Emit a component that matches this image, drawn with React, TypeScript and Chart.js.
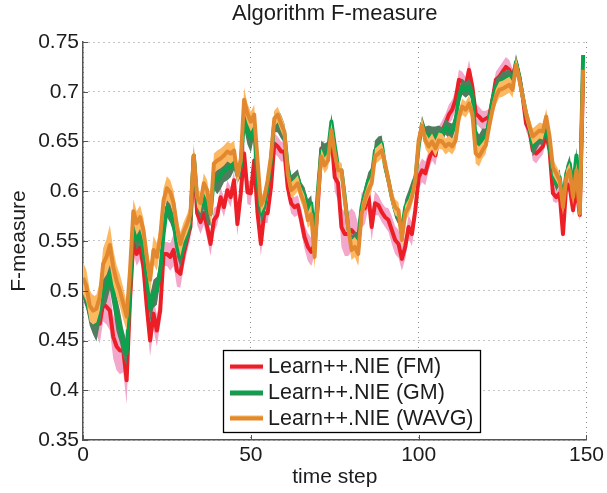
import React, { useEffect, useRef } from "react";
import { Chart, registerables } from "chart.js";

Chart.register(...registerables);

const TITLE = "Algorithm F-measure";
const X_LABEL = "time step";
const Y_LABEL = "F-measure";
const X_TICKS = [0, 50, 100, 150];
const X_TICK_LABELS = ["0", "50", "100", "150"];
const Y_TICKS = [0.35, 0.4, 0.45, 0.5, 0.55, 0.6, 0.65, 0.7, 0.75];
const Y_TICK_LABELS = ["0.35", "0.4", "0.45", "0.5", "0.55", "0.6", "0.65", "0.7", "0.75"];
const SERIES_NAMES = ["Learn++.NIE (FM)", "Learn++.NIE (GM)", "Learn++.NIE (WAVG)"];

const FM = [
  0.500, 0.494, 0.484, 0.480, 0.474, 0.467, 0.487, 0.484, 0.480, 0.454,
  0.444, 0.440, 0.440, 0.410, 0.490, 0.550, 0.537, 0.544, 0.524, 0.484,
  0.450, 0.477, 0.460, 0.480, 0.537, 0.537, 0.534, 0.541, 0.520, 0.517,
  0.537, 0.551, 0.564, 0.635, 0.578, 0.569, 0.578, 0.564, 0.547, 0.571,
  0.576, 0.594, 0.584, 0.601, 0.594, 0.611, 0.567, 0.598, 0.638, 0.599,
  0.598, 0.631, 0.578, 0.547, 0.578, 0.578, 0.604, 0.648, 0.645, 0.640,
  0.640, 0.604, 0.588, 0.584, 0.586, 0.571, 0.554, 0.544, 0.539, 0.547,
  0.588, 0.643, 0.635, 0.636, 0.656, 0.614, 0.608, 0.564, 0.557, 0.557,
  0.561, 0.557, 0.547, 0.581, 0.583, 0.598, 0.564, 0.588, 0.586, 0.579,
  0.574, 0.571, 0.561, 0.551, 0.547, 0.532, 0.544, 0.564, 0.557, 0.581,
  0.614, 0.621, 0.618, 0.631, 0.641, 0.636, 0.655, 0.661, 0.668, 0.677,
  0.682, 0.692, 0.712, 0.710, 0.705, 0.722, 0.705, 0.678, 0.675, 0.671,
  0.673, 0.675, 0.692, 0.712, 0.715, 0.720, 0.725, 0.722, 0.715, 0.728,
  0.715, 0.695, 0.668, 0.661, 0.641, 0.638, 0.641, 0.645, 0.658, 0.641,
  0.598, 0.594, 0.598, 0.557, 0.608, 0.604, 0.581, 0.604, 0.576, 0.718,
];

const GM = [
  0.500, 0.492, 0.477, 0.472, 0.467, 0.484, 0.500, 0.504, 0.517, 0.500,
  0.477, 0.464, 0.447, 0.437, 0.500, 0.565, 0.551, 0.557, 0.541, 0.514,
  0.482, 0.497, 0.500, 0.520, 0.557, 0.584, 0.578, 0.568, 0.544, 0.534,
  0.547, 0.557, 0.571, 0.636, 0.591, 0.584, 0.596, 0.581, 0.577, 0.614,
  0.611, 0.616, 0.621, 0.623, 0.624, 0.631, 0.618, 0.624, 0.675, 0.661,
  0.653, 0.665, 0.611, 0.577, 0.584, 0.604, 0.631, 0.670, 0.671, 0.665,
  0.658, 0.624, 0.608, 0.611, 0.614, 0.601, 0.596, 0.584, 0.588, 0.554,
  0.601, 0.641, 0.636, 0.640, 0.670, 0.646, 0.624, 0.621, 0.594, 0.564,
  0.547, 0.551, 0.551, 0.584, 0.598, 0.611, 0.614, 0.641, 0.645, 0.648,
  0.625, 0.611, 0.594, 0.581, 0.574, 0.561, 0.584, 0.591, 0.601, 0.611,
  0.645, 0.668, 0.655, 0.656, 0.655, 0.655, 0.658, 0.656, 0.665, 0.661,
  0.660, 0.671, 0.695, 0.705, 0.702, 0.705, 0.698, 0.651, 0.645, 0.653,
  0.655, 0.671, 0.692, 0.705, 0.708, 0.712, 0.713, 0.715, 0.708, 0.730,
  0.715, 0.695, 0.678, 0.665, 0.645, 0.651, 0.655, 0.655, 0.665, 0.645,
  0.618, 0.608, 0.614, 0.591, 0.618, 0.628, 0.604, 0.636, 0.585, 0.737,
];

const WAVG = [
  0.513, 0.505, 0.485, 0.480, 0.482, 0.494, 0.527, 0.534, 0.546, 0.524,
  0.510, 0.500, 0.487, 0.474, 0.520, 0.580, 0.568, 0.574, 0.561, 0.534,
  0.511, 0.541, 0.534, 0.554, 0.591, 0.603, 0.599, 0.588, 0.564, 0.547,
  0.559, 0.567, 0.577, 0.636, 0.594, 0.588, 0.608, 0.601, 0.577, 0.628,
  0.631, 0.633, 0.636, 0.640, 0.638, 0.641, 0.616, 0.631, 0.692, 0.678,
  0.670, 0.677, 0.631, 0.586, 0.593, 0.611, 0.635, 0.673, 0.677, 0.668,
  0.660, 0.618, 0.601, 0.604, 0.608, 0.596, 0.588, 0.571, 0.577, 0.534,
  0.594, 0.635, 0.626, 0.631, 0.661, 0.638, 0.621, 0.621, 0.591, 0.564,
  0.541, 0.544, 0.537, 0.577, 0.591, 0.601, 0.608, 0.635, 0.638, 0.641,
  0.628, 0.611, 0.594, 0.584, 0.581, 0.551, 0.578, 0.584, 0.594, 0.611,
  0.651, 0.666, 0.651, 0.645, 0.650, 0.643, 0.651, 0.650, 0.645, 0.648,
  0.645, 0.651, 0.675, 0.685, 0.682, 0.688, 0.678, 0.638, 0.635, 0.641,
  0.646, 0.665, 0.682, 0.695, 0.702, 0.703, 0.705, 0.707, 0.702, 0.727,
  0.712, 0.695, 0.678, 0.666, 0.655, 0.658, 0.661, 0.660, 0.675, 0.655,
  0.624, 0.618, 0.611, 0.584, 0.614, 0.621, 0.594, 0.621, 0.578, 0.722,
];

// half-width of the shaded confidence band around each series
const FM_SPREAD = [
  0.010, 0.012, 0.014, 0.016, 0.018, 0.020, 0.018, 0.018, 0.020, 0.022,
  0.024, 0.024, 0.022, 0.024, 0.020, 0.012, 0.012, 0.012, 0.012, 0.014,
  0.016, 0.016, 0.016, 0.014, 0.012, 0.012, 0.014, 0.016, 0.016, 0.014,
  0.014, 0.012, 0.012, 0.010, 0.012, 0.012, 0.012, 0.012, 0.012, 0.012,
  0.010, 0.010, 0.010, 0.010, 0.010, 0.010, 0.012, 0.010, 0.010, 0.012,
  0.012, 0.010, 0.012, 0.012, 0.010, 0.010, 0.010, 0.010, 0.010, 0.010,
  0.010, 0.010, 0.010, 0.010, 0.010, 0.012, 0.012, 0.014, 0.014, 0.012,
  0.010, 0.008, 0.008, 0.008, 0.010, 0.014, 0.018, 0.020, 0.022, 0.022,
  0.022, 0.022, 0.020, 0.018, 0.016, 0.014, 0.014, 0.012, 0.010, 0.010,
  0.010, 0.012, 0.014, 0.014, 0.014, 0.012, 0.012, 0.012, 0.012, 0.012,
  0.012, 0.012, 0.012, 0.010, 0.010, 0.010, 0.010, 0.010, 0.010, 0.010,
  0.010, 0.010, 0.010, 0.010, 0.010, 0.010, 0.010, 0.010, 0.010, 0.010,
  0.008, 0.008, 0.008, 0.008, 0.010, 0.010, 0.010, 0.010, 0.008, 0.008,
  0.008, 0.008, 0.008, 0.008, 0.010, 0.010, 0.008, 0.008, 0.008, 0.008,
  0.008, 0.006, 0.006, 0.006, 0.006, 0.006, 0.006, 0.006, 0.006, 0.006,
];

const GM_SPREAD = [
  0.008, 0.010, 0.012, 0.016, 0.018, 0.018, 0.016, 0.016, 0.016, 0.018,
  0.018, 0.016, 0.014, 0.012, 0.010, 0.010, 0.010, 0.010, 0.012, 0.012,
  0.014, 0.014, 0.014, 0.012, 0.010, 0.010, 0.010, 0.010, 0.010, 0.010,
  0.010, 0.010, 0.012, 0.008, 0.010, 0.012, 0.014, 0.014, 0.012, 0.012,
  0.014, 0.014, 0.012, 0.012, 0.010, 0.010, 0.010, 0.010, 0.012, 0.014,
  0.014, 0.010, 0.010, 0.010, 0.008, 0.008, 0.008, 0.010, 0.012, 0.012,
  0.010, 0.008, 0.008, 0.008, 0.008, 0.008, 0.008, 0.008, 0.008, 0.008,
  0.008, 0.010, 0.012, 0.010, 0.008, 0.008, 0.006, 0.006, 0.006, 0.006,
  0.008, 0.008, 0.008, 0.008, 0.008, 0.008, 0.010, 0.010, 0.010, 0.008,
  0.008, 0.008, 0.008, 0.008, 0.008, 0.008, 0.008, 0.010, 0.010, 0.008,
  0.008, 0.008, 0.010, 0.010, 0.010, 0.010, 0.008, 0.008, 0.008, 0.008,
  0.008, 0.008, 0.008, 0.008, 0.008, 0.008, 0.008, 0.012, 0.012, 0.010,
  0.008, 0.008, 0.008, 0.008, 0.008, 0.008, 0.008, 0.008, 0.008, 0.008,
  0.008, 0.008, 0.008, 0.008, 0.010, 0.010, 0.008, 0.008, 0.008, 0.008,
  0.008, 0.008, 0.008, 0.008, 0.008, 0.008, 0.008, 0.008, 0.008, 0.008,
];

const WAVG_SPREAD = [
  0.016, 0.016, 0.016, 0.014, 0.014, 0.014, 0.016, 0.018, 0.020, 0.018,
  0.016, 0.016, 0.016, 0.014, 0.012, 0.012, 0.012, 0.012, 0.012, 0.014,
  0.014, 0.014, 0.014, 0.012, 0.012, 0.012, 0.012, 0.012, 0.012, 0.012,
  0.010, 0.010, 0.010, 0.012, 0.010, 0.010, 0.010, 0.010, 0.010, 0.010,
  0.010, 0.010, 0.010, 0.010, 0.010, 0.010, 0.010, 0.010, 0.012, 0.010,
  0.010, 0.010, 0.008, 0.008, 0.008, 0.008, 0.008, 0.008, 0.008, 0.008,
  0.008, 0.008, 0.008, 0.008, 0.008, 0.008, 0.008, 0.008, 0.010, 0.012,
  0.010, 0.008, 0.008, 0.008, 0.008, 0.008, 0.008, 0.008, 0.008, 0.010,
  0.010, 0.010, 0.012, 0.010, 0.008, 0.008, 0.008, 0.008, 0.008, 0.008,
  0.008, 0.008, 0.008, 0.008, 0.008, 0.010, 0.008, 0.008, 0.008, 0.008,
  0.008, 0.008, 0.008, 0.008, 0.008, 0.008, 0.008, 0.008, 0.008, 0.008,
  0.008, 0.008, 0.008, 0.008, 0.008, 0.008, 0.008, 0.010, 0.010, 0.008,
  0.008, 0.008, 0.008, 0.008, 0.008, 0.008, 0.008, 0.008, 0.008, 0.008,
  0.008, 0.008, 0.008, 0.008, 0.008, 0.008, 0.008, 0.008, 0.008, 0.008,
  0.008, 0.008, 0.008, 0.008, 0.008, 0.008, 0.008, 0.008, 0.008, 0.008,
];

const LINE_COLORS = ["#ed1f26", "#0aa24c", "#e2892f"];
const BAND_COLORS = ["#f3a8cb", "#4f7d5d", "#fdb862"];

const FONT = "'Liberation Sans', Arial, Helvetica, sans-serif";
const TEXT_COLOR = "#1c1c1c";
const AXIS_COLOR = "#555555";

function pts(values: number[], spread?: number[], sign = 0) {
  return values.map((v, i) => ({ x: i, y: spread ? v + sign * spread[i] : v }));
}

const decorPlugin = {
  id: "decor",
  afterDraw(chart: any) {
    const { ctx, chartArea: a, scales } = chart;
    ctx.save();
    // inward tick marks
    ctx.strokeStyle = AXIS_COLOR;
    ctx.lineWidth = 1;
    ctx.beginPath();
    for (const v of Y_TICKS) {
      const y = Math.round(scales.y.getPixelForValue(v)) + 0.5;
      ctx.moveTo(a.left, y);
      ctx.lineTo(a.left + 5, y);
    }
    for (const v of X_TICKS) {
      const x = Math.round(scales.x.getPixelForValue(v)) + 0.5;
      ctx.moveTo(x, a.bottom);
      ctx.lineTo(x, a.bottom - 5);
    }
    ctx.stroke();

    // legend box
    const bx = a.left + 140;
    const by = a.bottom - 90;
    const bw = 257;
    const bh = 82;
    ctx.fillStyle = "#ffffff";
    ctx.fillRect(bx, by, bw, bh);
    ctx.strokeStyle = "#000000";
    ctx.lineWidth = 1.3;
    ctx.strokeRect(bx + 0.5, by + 0.5, bw, bh);
    ctx.font = `21.5px ${FONT}`;
    ctx.textBaseline = "middle";
    ctx.textAlign = "left";
    SERIES_NAMES.forEach((name, i) => {
      const cy = by + 16.5 + i * 26;
      ctx.strokeStyle = BAND_COLORS[i];
      ctx.lineWidth = 2;
      ctx.beginPath();
      ctx.moveTo(bx + 7, cy + (i === 2 ? -2 : 2));
      ctx.lineTo(bx + 40, cy + (i === 2 ? -2 : 2));
      ctx.stroke();
      ctx.strokeStyle = LINE_COLORS[i];
      ctx.lineWidth = 4;
      ctx.beginPath();
      ctx.moveTo(bx + 7, cy);
      ctx.lineTo(bx + 40, cy);
      ctx.stroke();
      ctx.fillStyle = TEXT_COLOR;
      ctx.fillText(name, bx + 45, cy + 1);
    });
    ctx.restore();
  },
};

export default function App() {
  const ref = useRef<HTMLCanvasElement | null>(null);

  useEffect(() => {
    if (!ref.current) return;
    const series = [
      { values: FM, spread: FM_SPREAD },
      { values: GM, spread: GM_SPREAD },
      { values: WAVG, spread: WAVG_SPREAD },
    ];
    const datasets: any[] = [];
    series.forEach((s, i) => {
      const base = 10 - i * 3;
      datasets.push({
        label: SERIES_NAMES[i] + " upper",
        data: pts(s.values, s.spread, 1),
        borderWidth: 0,
        borderColor: "transparent",
        pointRadius: 0,
        fill: false,
        order: base + 2,
      });
      datasets.push({
        label: SERIES_NAMES[i] + " lower",
        data: pts(s.values, s.spread, -1),
        borderWidth: 0,
        borderColor: "transparent",
        backgroundColor: BAND_COLORS[i],
        pointRadius: 0,
        fill: "-1",
        order: base + 1,
      });
      datasets.push({
        label: SERIES_NAMES[i],
        data: pts(s.values),
        borderWidth: 4,
        borderColor: LINE_COLORS[i],
        backgroundColor: LINE_COLORS[i],
        pointRadius: 0,
        fill: false,
        tension: 0,
        borderJoinStyle: "round",
        order: base,
      });
    });

    const chart = new Chart(ref.current, {
      type: "line",
      data: { datasets },
      options: {
        animation: false,
        responsive: true,
        maintainAspectRatio: false,
        parsing: false,
        normalized: true,
        layout: { padding: { left: 0, right: 19, top: 0, bottom: 0 } },
        plugins: {
          legend: { display: false },
          tooltip: { enabled: false },
          title: {
            display: true,
            text: TITLE,
            fullSize: false,
            color: TEXT_COLOR,
            font: { family: FONT, size: 22, weight: "normal", lineHeight: 1.2 },
            padding: { top: 1, bottom: 14.6 },
          },
        },
        scales: {
          x: {
            type: "linear",
            min: 0,
            max: 150,
            afterFit: (scale: any) => {
              scale.height = 53;
            },
            afterBuildTicks: (scale: any) => {
              scale.ticks = X_TICKS.map((v) => ({ value: v }));
            },
            ticks: {
              padding: 3,
              color: TEXT_COLOR,
              font: { family: FONT, size: 21 },
              maxRotation: 0,
              callback: (v: any) => X_TICK_LABELS[X_TICKS.indexOf(Number(v))] ?? "",
            },
            grid: { color: "#8a8a8a", lineWidth: 1, drawTicks: false },
            border: { display: true, color: AXIS_COLOR, width: 1.5, dash: [1, 4] },
            title: {
              display: true,
              text: X_LABEL,
              color: TEXT_COLOR,
              font: { family: FONT, size: 21 },
              padding: { top: 0, bottom: 3 },
            },
          },
          y: {
            type: "linear",
            min: 0.35,
            max: 0.75,
            afterFit: (scale: any) => {
              scale.width = 83;
            },
            afterBuildTicks: (scale: any) => {
              scale.ticks = Y_TICKS.map((v) => ({ value: v }));
            },
            ticks: {
              padding: 4,
              color: TEXT_COLOR,
              font: { family: FONT, size: 21 },
              callback: (v: any) => {
                const idx = Y_TICKS.findIndex((t) => Math.abs(t - Number(v)) < 1e-6);
                return idx >= 0 ? Y_TICK_LABELS[idx] : "";
              },
            },
            grid: { color: "#8a8a8a", lineWidth: 1, drawTicks: false },
            border: { display: true, color: AXIS_COLOR, width: 1.5, dash: [1, 4] },
            title: {
              display: true,
              text: Y_LABEL,
              color: TEXT_COLOR,
              font: { family: FONT, size: 21 },
              padding: { top: 7, bottom: 0 },
            },
          },
        },
      },
      plugins: [decorPlugin],
    });
    return () => chart.destroy();
  }, []);

  return (
    <div style={{ position: "fixed", left: 0, top: 0, width: 607, height: 493, background: "#fff" }}>
      <canvas ref={ref} />
    </div>
  );
}
